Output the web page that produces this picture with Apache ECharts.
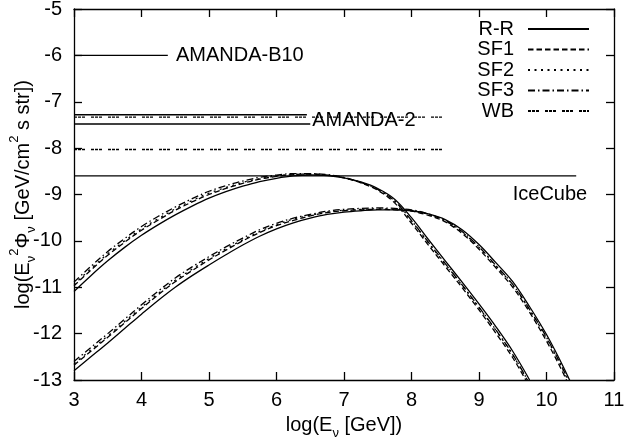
<!DOCTYPE html>
<html><head><meta charset="utf-8">
<script src="https://cdn.jsdelivr.net/npm/echarts@6/dist/echarts.min.js"></script>
<style>html,body{margin:0;padding:0;background:#fff}#c{width:629px;height:445px}</style>
</head><body><div id="c"></div>
<script>
// ---- data (log10 values) ----
const xUpper = [3.0,3.25,3.5,3.75,4.0,4.25,4.5,4.75,5.0,5.25,5.5,5.75,6.0,6.25,6.5,6.75,7.0,7.25,7.5,7.75,8.0,8.25,8.5,8.75,9.0,9.25,9.5,9.75];
const rrUpper  = [-11.09,-10.75,-10.43,-10.14,-9.88,-9.65,-9.44,-9.25,-9.08,-8.94,-8.82,-8.72,-8.65,-8.60,-8.58,-8.59,-8.64,-8.73,-8.87,-9.10,-9.50,-9.97,-10.43,-10.89,-11.36,-11.85,-12.38,-13.00];
const sf1Upper = [-10.97,-10.63,-10.31,-10.03,-9.77,-9.55,-9.34,-9.16,-9.00,-8.87,-8.76,-8.67,-8.61,-8.57,-8.56,-8.58,-8.64,-8.75,-8.91,-9.18,-9.62,-10.09,-10.55,-11.01,-11.49,-11.99,-12.52,-13.15];
const sf2Upper = [-10.94,-10.60,-10.28,-10.00,-9.74,-9.52,-9.31,-9.13,-8.97,-8.85,-8.74,-8.66,-8.60,-8.57,-8.56,-8.58,-8.64,-8.74,-8.89,-9.14,-9.57,-10.04,-10.50,-10.96,-11.44,-11.93,-12.46,-13.09];
const sf3Upper = [-10.89,-10.55,-10.23,-9.95,-9.69,-9.47,-9.27,-9.09,-8.93,-8.81,-8.71,-8.63,-8.58,-8.55,-8.55,-8.57,-8.63,-8.74,-8.89,-9.14,-9.56,-10.03,-10.49,-10.95,-11.43,-11.92,-12.45,-13.08];

const xLower = [3.0,3.25,3.5,3.75,4.0,4.25,4.5,4.75,5.0,5.25,5.5,5.75,6.0,6.25,6.5,6.75,7.0,7.25,7.5,7.75,8.0,8.25,8.5,8.75,9.0,9.25,9.5,9.75,10.0,10.25,10.5];
const rrLower  = [-12.80,-12.50,-12.20,-11.89,-11.58,-11.28,-11.00,-10.75,-10.52,-10.30,-10.09,-9.90,-9.74,-9.61,-9.51,-9.43,-9.38,-9.35,-9.33,-9.33,-9.35,-9.42,-9.54,-9.76,-10.08,-10.47,-10.88,-11.42,-12.02,-12.72,-13.50];
const sf1Lower = [-12.68,-12.38,-12.08,-11.77,-11.46,-11.16,-10.88,-10.64,-10.41,-10.20,-10.00,-9.82,-9.67,-9.56,-9.46,-9.39,-9.35,-9.33,-9.32,-9.33,-9.36,-9.45,-9.59,-9.84,-10.18,-10.58,-11.00,-11.54,-12.16,-12.86,-13.65];
const sf2Lower = [-12.65,-12.35,-12.05,-11.74,-11.43,-11.13,-10.85,-10.61,-10.38,-10.17,-9.98,-9.80,-9.65,-9.53,-9.45,-9.38,-9.34,-9.32,-9.31,-9.32,-9.35,-9.43,-9.57,-9.81,-10.14,-10.54,-10.95,-11.49,-12.10,-12.80,-13.58];
const sf3Lower = [-12.60,-12.30,-12.00,-11.69,-11.38,-11.08,-10.80,-10.56,-10.34,-10.13,-9.94,-9.76,-9.62,-9.51,-9.43,-9.36,-9.32,-9.30,-9.29,-9.30,-9.33,-9.42,-9.56,-9.80,-10.13,-10.53,-10.94,-11.48,-12.08,-12.78,-13.56];

// experimental limits (solid horizontal lines): level and energy range
const limitY    = [-6.0, -7.28, -7.48, -8.6];
const limitXMin = [3.0, 3.0, 3.0, 3.0];
const limitXMax = [4.39, 6.45, 6.5, 10.44];
// Waxman-Bahcall bounds (dotted horizontal lines)
const wbY    = [-7.33, -8.03];
const wbXMin = [3.0, 3.0];
const wbXMax = [8.54, 8.54];
// text annotations
const noteText = ['AMANDA-B10', 'AMANDA-2', 'IceCube'];
const noteX    = [4.51, 6.53, 9.5];
const noteY    = [-6.0, -7.41, -9.0];

const legendNames = ['R-R','SF1','SF2','SF3','WB'];
const xTicks = [3,4,5,6,7,8,9,10,11];
const yTicks = [-13,-12,-11,-10,-9,-8,-7,-6,-5];

// ---- styles ----
const FONT = 'Liberation Sans, Arial, Helvetica, sans-serif';
const LW = 1.3;
const dash = {
  'R-R': 'solid',
  'SF1': [5.5, 3],
  'SF2': [2, 4.5],
  'SF3': [7, 3, 1.5, 3],
  'WB':  [3, 1, 3, 1, 3, 6]
};
const zip = (xs, ys) => xs.map((x, i) => [x, ys[i]]);
function curve(name, xs, ys) {
  return {type:'line', name, data: zip(xs, ys), symbol:'none', showSymbol:false, smooth:0.35,
    lineStyle:{color:'#000', width:LW, type:dash[name]}, itemStyle:{color:'#000'},
    silent:true, z:3};
}
const series = [];
series.push(curve('R-R', xUpper, rrUpper));
series.push(curve('SF1', xUpper, sf1Upper));
series.push(curve('SF2', xUpper, sf2Upper));
series.push(curve('SF3', xUpper, sf3Upper));
series.push(curve('R-R', xLower, rrLower));
series.push(curve('SF1', xLower, sf1Lower));
series.push(curve('SF2', xLower, sf2Lower));
series.push(curve('SF3', xLower, sf3Lower));
wbY.forEach((y, i) => {
  series.push({type:'line', name:'WB', data:[[wbXMin[i], y],[wbXMax[i], y]], symbol:'none',
    lineStyle:{color:'#000', width:LW, type:dash['WB']}, itemStyle:{color:'#000'}, silent:true});
});
limitY.forEach((y, i) => {
  series.push({type:'line', name:'limit'+i, data:[[limitXMin[i], y],[limitXMax[i], y]], symbol:'none',
    lineStyle:{color:'#000', width:LW, type:'solid'}, silent:true});
});
series.push({type:'scatter', name:'notes', symbolSize:0, silent:true, z:5,
  itemStyle:{opacity:1, color:'#000'},
  data: noteText.map((t, i) => ({name:t, value:[noteX[i], noteY[i]]})),
  label:{show:true, position:'right', distance:0, formatter:'{b}', color:'#000', opacity:1, fontSize:20, fontFamily:FONT}});

const tickLabel = {color:'#000', fontSize:20, fontFamily:FONT};
const axisLine = {show:true, lineStyle:{color:'#000', width:1.3}};
const tick = {show:true, inside:true, length:8, lineStyle:{color:'#000', width:1.3}};
const rich = {
  n:{fontSize:20, fontFamily:FONT, color:'#000', lineHeight:30},
  sub:{fontSize:13, fontFamily:FONT, color:'#000', lineHeight:13, verticalAlign:'bottom'},
  sup:{fontSize:13, fontFamily:FONT, color:'#000', lineHeight:13, verticalAlign:'top'}
};

const option = {
  animation:false,
  backgroundColor:'#fff',
  textStyle:{fontFamily:FONT},
  grid:{left:74, right:15, top:9, bottom:65, containLabel:false, outerBoundsMode:'none'},
  legend:{data:legendNames, orient:'vertical', right:39, top:19, align:'right', padding:0,
    itemWidth:61, itemHeight:14, itemGap:0.5, selectedMode:false,
    itemStyle:{color:'rgba(0,0,0,0)', borderColor:'rgba(0,0,0,0)', borderWidth:0, opacity:0},
    textStyle:{color:'#000', fontSize:20, fontFamily:FONT, lineHeight:20, padding:[0,9,0,0]}},
  xAxis:[
    {type:'value', min:xTicks[0], max:xTicks[xTicks.length-1], interval:1, position:'bottom',
     axisLine, axisTick:tick, splitLine:{show:false}, axisLabel:{...tickLabel, margin:10},
     name:'{n|log(E}{sub|ν}{n| [GeV])}', nameLocation:'middle', nameGap:30, nameMoveOverlap:false,
     nameTextStyle:{rich}},
    {type:'value', min:xTicks[0], max:xTicks[xTicks.length-1], interval:1, position:'top',
     axisLine, axisTick:tick, splitLine:{show:false}, axisLabel:{show:false}}
  ],
  yAxis:[
    {type:'value', min:yTicks[0], max:yTicks[yTicks.length-1], interval:1, position:'left',
     axisLine, axisTick:tick, splitLine:{show:false}, axisLabel:{...tickLabel, margin:12},
     name:'{n|log(E}{sub|ν}{sup|2}{n|Φ}{sub|ν}{n| [GeV/cm}{sup|2}{n| s str])}', nameLocation:'middle', nameGap:36,
     nameMoveOverlap:false, nameTextStyle:{rich}},
    {type:'value', min:yTicks[0], max:yTicks[yTicks.length-1], interval:1, position:'right',
     axisLine, axisTick:tick, splitLine:{show:false}, axisLabel:{show:false}}
  ],
  series
};
const chart = echarts.init(document.getElementById('c'), null, {renderer:'canvas'});
chart.setOption(option);
</script></body></html>
